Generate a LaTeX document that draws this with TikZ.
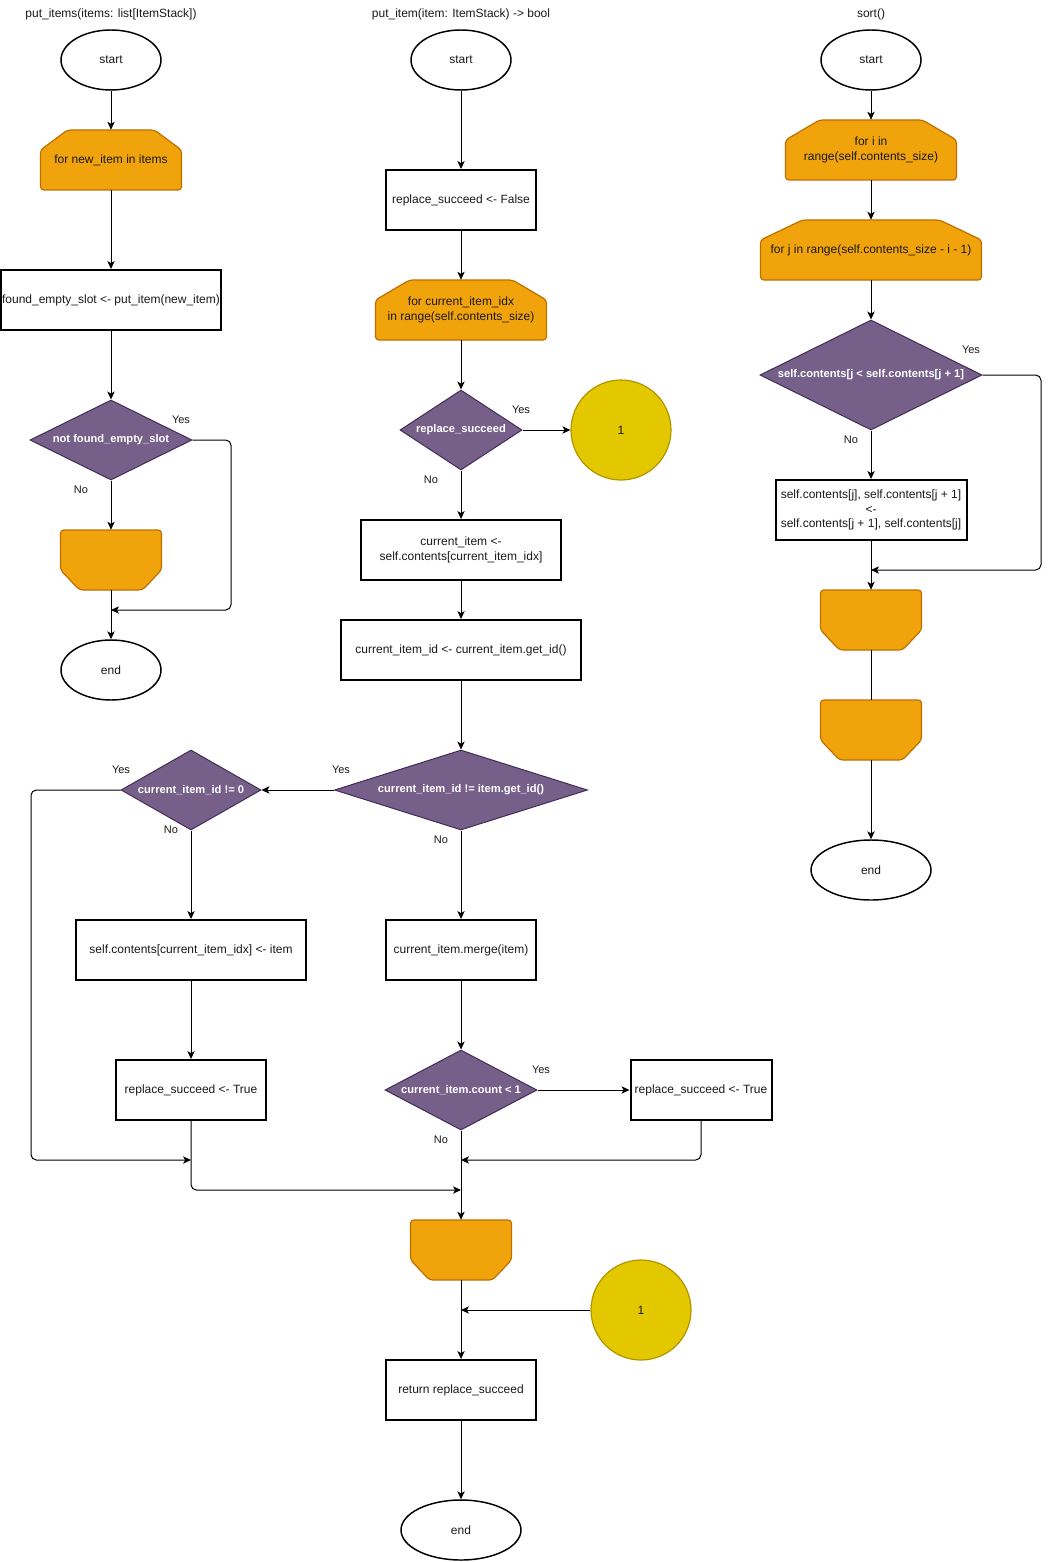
\documentclass[tikz,border=0pt]{standalone}
\usepackage{fontspec}
\setmainfont{Liberation Sans}
\usetikzlibrary{arrows.meta,shapes.geometric}
\definecolor{orfill}{HTML}{F0A30A}
\definecolor{orstroke}{HTML}{BD7000}
\definecolor{decfill}{HTML}{76608A}
\definecolor{decstroke}{HTML}{432D57}
\definecolor{yelfill}{HTML}{E3C800}
\definecolor{yelstroke}{HTML}{B09500}
\definecolor{txt}{HTML}{1A1A1A}
\tikzset{
  conn/.style={draw=black, line width=0.75pt, -{Stealth[length=6pt,width=5.5pt,inset=1.6pt]}},
  plainline/.style={draw=black, line width=0.75pt},
  term/.style={ellipse, draw=black, line width=1.1pt, fill=white, minimum width=75pt, minimum height=45pt, inner sep=0, text=txt},
  proc/.style={rectangle, draw=black, line width=1.5pt, fill=white, minimum height=45pt, inner sep=0, align=center, text=txt},
  dec/.style={diamond, draw=decstroke, fill=decfill, line width=0.75pt, inner sep=0},
  dectext/.style={text=white, font=\fontsize{8.35}{10}\selectfont\bfseries, inner sep=0},
  yel/.style={circle, draw=yelstroke, fill=yelfill, line width=0.9pt, minimum size=75pt, inner sep=0, text=txt},
  loopshape/.style={draw=orstroke, fill=orfill, line width=0.9pt, rounded corners=2.5pt},
  looptext/.style={rectangle, inner sep=0, align=center, text=txt},
  lbl/.style={font=\fontsize{8.25}{10}\selectfont, text=txt, inner sep=0},
  ttl/.style={font=\fontsize{9}{11}\selectfont, text=txt, inner sep=0},
}
\newcommand{\LoopTop}[7]{%
  \path[loopshape] (#2-#4/2,#3+#5/2) -- (#2-#4/2,#3-#5/2+20) -- (#2-#4/2+#6,#3-#5/2) -- (#2+#4/2-#6,#3-#5/2) -- (#2+#4/2,#3-#5/2+20) -- (#2+#4/2,#3+#5/2) -- cycle;
  \node[looptext, minimum width=#4*0.75pt, minimum height=#5*0.75pt] (#1) at (#2,#3) {#7};}
\newcommand{\LoopEnd}[6]{%
  \path[loopshape] (#2-#4/2,#3-#5/2) -- (#2+#4/2,#3-#5/2) -- (#2+#4/2,#3+#5/2-20) -- (#2+#4/2-#6,#3+#5/2) -- (#2-#4/2+#6,#3+#5/2) -- (#2-#4/2,#3+#5/2-20) -- cycle;
  \node[looptext, minimum width=#4*0.75pt, minimum height=#5*0.75pt] (#1) at (#2,#3) {};}
\begin{document}
\begin{tikzpicture}[x=0.75pt,y=-0.75pt,font=\fontsize{9}{11}\selectfont]
\fill[white] (0,0) rectangle (1050,1562);
\useasboundingbox (0,0) rectangle (1050,1562);

% ---------- titles ----------
\node[ttl] (t1) at (111,14) {put\_items(items: list[ItemStack])};
\node[ttl] (t2) at (461,14) {put\_item(item: ItemStack) -> bool};
\node[ttl] (t3) at (871,14) {sort()};

% ---------- column 1 ----------
\node[term] (s1) at (111,60) {start};
\LoopTop{l1}{111}{160}{141}{60}{27}{for new\_item in items}
\node[proc, minimum width=165pt] (r1) at (111,300) {found\_empty\_slot <- put\_item(new\_item)};
\node[dec, minimum width=121.5pt, minimum height=60pt] (d1) at (111,440) {};
\node[dectext] (d1t) at (d1) {not found\_empty\_slot};
\LoopEnd{le1}{111}{560}{101}{60}{19}
\node[term] (e1) at (111,670) {end};
\node[lbl] (y1) at (181,420) {Yes};
\node[lbl] (n1) at (81,490) {No};
\coordinate (k1) at (231,440);
\coordinate (j1) at (111,610);
\draw[conn] (s1.south) -- (l1.north);
\draw[conn] (l1.south) -- (r1.north);
\draw[conn] (r1.south) -- (d1.north);
\draw[conn] (d1.south) -- (le1.north);
\draw[conn] (le1.south) -- (e1.north);
\draw[conn, rounded corners=4pt] (d1.east) -- (k1) |- (j1);

% ---------- column 2 ----------
\node[term] (s2) at (461,60) {start};
\node[proc, minimum width=112.5pt] (r2) at (461,200) {replace\_succeed <- False};
\LoopTop{l2}{461}{310}{171}{60}{34}{for current\_item\_idx\\in range(self.contents\_size)}
\node[dec, minimum width=91.5pt, minimum height=60pt] (d2) at (461,430) {};
\node[dectext] (d2t) at (d2) {replace\_succeed};
\node[yel] (c2) at (621,430) {1};
\node[proc, minimum width=150pt] (r3) at (461,550) {current\_item <-\\self.contents[current\_item\_idx]};
\node[proc, minimum width=180pt] (r4) at (461,650) {current\_item\_id <- current\_item.get\_id()};
\node[dec, minimum width=189.75pt, minimum height=60pt] (d3) at (461,790) {};
\node[dectext] (d3t) at (d3) {current\_item\_id != item.get\_id()};
\node[dec, minimum width=105pt, minimum height=60pt] (d4) at (191,790) {};
\node[dectext] (d4t) at (d4) {current\_item\_id != 0};
\node[proc, minimum width=172.5pt] (r5) at (191,950) {self.contents[current\_item\_idx] <- item};
\node[proc, minimum width=112.5pt] (r7) at (191,1090) {replace\_succeed <- True};
\node[proc, minimum width=112.5pt] (r6) at (461,950) {current\_item.merge(item)};
\node[dec, minimum width=114pt, minimum height=60pt] (d5) at (461,1090) {};
\node[dectext] (d5t) at (d5) {current\_item.count < 1};
\node[proc, minimum width=105.75pt] (r8) at (701,1090) {replace\_succeed <- True};
\LoopEnd{le2}{461}{1250}{101}{60}{19}
\node[yel] (c3) at (641,1310) {1};
\node[proc, minimum width=112.5pt] (r9) at (461,1390) {return replace\_succeed};
\node[term, minimum width=90pt] (e2) at (461,1530) {end};

\node[lbl] (y2) at (521,410) {Yes};
\node[lbl] (n2) at (431,480) {No};
\node[lbl] (y3) at (341,770) {Yes};
\node[lbl] (n3) at (441,840) {No};
\node[lbl] (y4) at (121,770) {Yes};
\node[lbl] (n4) at (171,830) {No};
\node[lbl] (y5) at (541,1070) {Yes};
\node[lbl] (n5) at (441,1140) {No};

\coordinate (k4) at (31,790);
\coordinate (j3) at (191,1160);
\coordinate (j2) at (461,1160);
\coordinate (j4) at (461,1190);
\coordinate (j5) at (461,1310);

\draw[conn] (s2.south) -- (r2.north);
\draw[conn] (r2.south) -- (l2.north);
\draw[conn] (l2.south) -- (d2.north);
\draw[conn] (d2.east) -- (c2.west);
\draw[conn] (d2.south) -- (r3.north);
\draw[conn] (r3.south) -- (r4.north);
\draw[conn] (r4.south) -- (d3.north);
\draw[conn] (d3.west) -- (d4.east);
\draw[conn] (d3.south) -- (r6.north);
\draw[conn] (d4.south) -- (r5.north);
\draw[conn] (r5.south) -- (r7.north);
\draw[conn] (r6.south) -- (d5.north);
\draw[conn] (d5.east) -- (r8.west);
\draw[conn, rounded corners=4pt] (r8.south) |- (j2);
\draw[conn, rounded corners=4pt] (d4.west) -- (k4) |- (j3);
\draw[conn, rounded corners=4pt] (r7.south) |- (j4);
\draw[conn] (d5.south) -- (le2.north);
\draw[conn] (le2.south) -- (r9.north);
\draw[conn] (c3.west) -- (j5);
\draw[conn] (r9.south) -- (e2.north);

% ---------- column 3 ----------
\node[term] (s3) at (871,60) {start};
\LoopTop{l3}{871}{150}{171}{60}{34}{for i in\\range(self.contents\_size)}
\LoopTop{l4}{871}{250}{221}{60}{42}{for j in range(self.contents\_size - i - 1)}
\node[dec, minimum width=166.5pt, minimum height=82.5pt] (d6) at (871,375) {};
\node[dectext] (d6t) at (d6) {self.contents[j < self.contents[j + 1]};
\node[proc, minimum width=143.25pt] (r10) at (871,510) {self.contents[j], self.contents[j + 1]\\<-\\self.contents[j + 1], self.contents[j]};
\LoopEnd{le3}{871}{620}{101}{60}{19}
\LoopEnd{le4}{871}{730}{101}{60}{19}
\node[term, minimum width=90pt] (e3) at (871,870) {end};
\node[lbl] (y6) at (971,350) {Yes};
\node[lbl] (n6) at (851,440) {No};
\coordinate (k6) at (1041,375);
\coordinate (j6) at (871,570);

\draw[conn] (s3.south) -- (l3.north);
\draw[conn] (l3.south) -- (l4.north);
\draw[conn] (l4.south) -- (d6.north);
\draw[conn] (d6.south) -- (r10.north);
\draw[conn, rounded corners=4pt] (d6.east) -- (k6) |- (j6);
\draw[conn] (r10.south) -- (le3.north);
\draw[plainline] (le3.south) -- (le4.north);
\draw[conn] (le4.south) -- (e3.north);
\end{tikzpicture}
\end{document}
